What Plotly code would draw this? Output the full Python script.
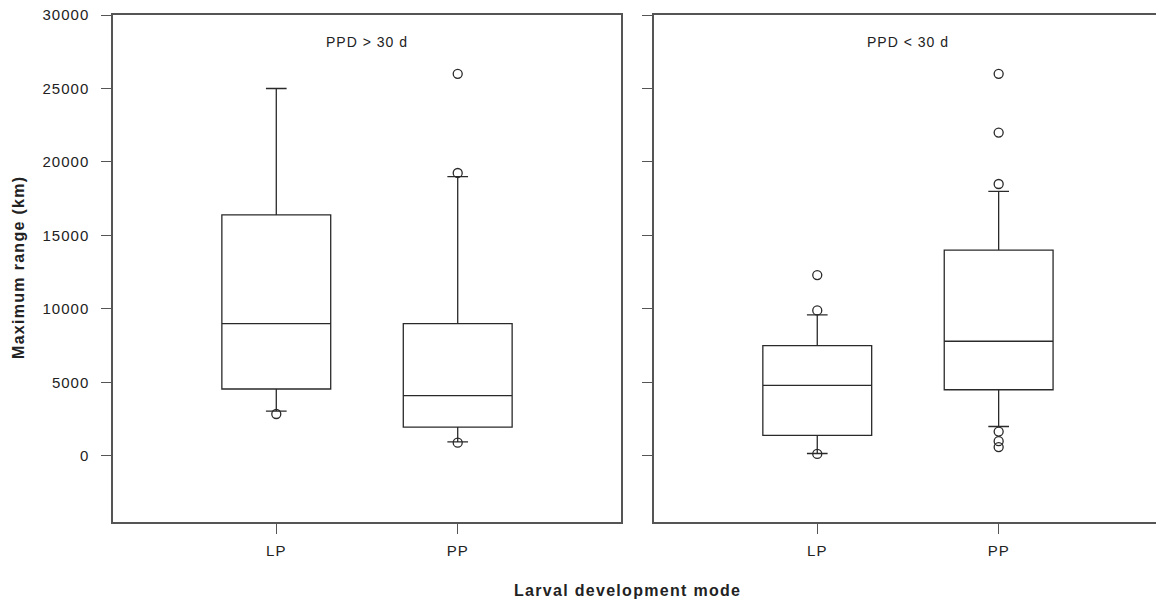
import plotly.graph_objects as go

# ---- data ----
categories = ["LP", "PP"]
panels = ["PPD > 30 d", "PPD < 30 d"]

# left panel: PPD > 30 d
left_q1 = [4550, 1950]
left_median = [9000, 4100]
left_q3 = [16400, 9000]
left_lower = [3050, 950]
left_upper = [25000, 19000]
left_outliers = [[2850], [900, 19250, 26000]]

# right panel: PPD < 30 d
right_q1 = [1400, 4500]
right_median = [4800, 7800]
right_q3 = [7500, 14000]
right_lower = [160, 2000]
right_upper = [9600, 18000]
right_outliers = [[130, 9900, 12300], [600, 1000, 1650, 18500, 22000, 26000]]

y_ticks = [0, 5000, 10000, 15000, 20000, 25000, 30000]

FONT = "Liberation Sans, Arial, sans-serif"
LINE = "#2a2a2a"
AXIS = "#555555"
TXT = "#222222"

fig = go.Figure()

def add_panel(xa, ya, q1, med, q3, lo, up, outs):
    for i in range(len(categories)):
        fig.add_trace(go.Box(
            x=[i], q1=[q1[i]], median=[med[i]], q3=[q3[i]],
            lowerfence=[lo[i]], upperfence=[up[i]],
            width=0.6, whiskerwidth=0.19, boxpoints=False,
            fillcolor="white", line=dict(color=LINE, width=1.3),
            xaxis=xa, yaxis=ya, showlegend=False, hoverinfo="skip"))
        fig.add_trace(go.Scatter(
            x=[i] * len(outs[i]), y=outs[i], mode="markers",
            marker=dict(symbol="circle-open", size=9, color=LINE,
                        line=dict(width=1.3, color=LINE)),
            xaxis=xa, yaxis=ya, showlegend=False, hoverinfo="skip"))

add_panel("x", "y", left_q1, left_median, left_q3, left_lower, left_upper, left_outliers)
add_panel("x2", "y2", right_q1, right_median, right_q3, right_lower, right_upper, right_outliers)

W = 1156
ml = 113
pw = W - ml
d1_end = (621 - ml) / pw
d2_start = (654 - ml) / pw

def spaced(s, px):
    return f'<span style="letter-spacing:{px}px">{s}</span>'

xcommon = dict(tickvals=[0, 1], ticktext=[spaced(c, 1) for c in categories],
               ticks="outside", ticklen=10,
               tickcolor=AXIS, tickwidth=1.3, showline=True, linecolor=AXIS,
               linewidth=1.5, showgrid=False, zeroline=False, ticklabelstandoff=4,
               tickfont=dict(family=FONT, size=15, color=TXT))
ycommon = dict(range=[-4500, 30000], tickvals=y_ticks,
               ticktext=[spaced(str(v), 1) for v in y_ticks],
               ticks="outside", ticklen=10, tickcolor=AXIS, tickwidth=1.3,
               showline=True, linecolor=AXIS, linewidth=1.5, showgrid=False,
               zeroline=False, ticklabelstandoff=9,
               tickfont=dict(family=FONT, size=15, color=TXT))

fig.update_layout(
    width=W, height=600,
    margin=dict(l=ml, r=0, t=15, b=78),
    plot_bgcolor="white", paper_bgcolor="white",
    xaxis=dict(domain=[0, d1_end], range=[-0.9, 1.9], mirror=True, **xcommon),
    xaxis2=dict(domain=[d2_start, 1], range=[-0.9, (1156 - 818) / 181], mirror=True,
                anchor="y2", **xcommon),
    yaxis=dict(mirror=True, **ycommon),
    yaxis2=dict(anchor="x2", matches="y", showticklabels=False, mirror=False, **ycommon),
    annotations=[
        dict(text=spaced(panels[0], 1), xref="x domain", yref="y", x=0.5, y=28150,
             xanchor="center", yanchor="middle",
             showarrow=False, font=dict(family=FONT, size=14, color=TXT)),
        dict(text=spaced(panels[1], 1), xref="x2", yref="y2", x=0.5, y=28150,
             xanchor="center", yanchor="middle",
             showarrow=False, font=dict(family=FONT, size=14, color=TXT)),
        dict(text="<b>" + spaced("Maximum range (km)", 1.3) + "</b>", xref="paper", yref="paper",
             x=(18 - ml) / pw, y=(522 - 268) / 507, textangle=-90, showarrow=False,
             xanchor="center", yanchor="middle",
             font=dict(family=FONT, size=16, color=TXT)),
        dict(text="<b>" + spaced("Larval development mode", 1.3) + "</b>", xref="paper", yref="paper",
             x=(627 - ml) / pw, y=(522 - 590) / 507, showarrow=False,
             xanchor="center", yanchor="middle",
             font=dict(family=FONT, size=16, color=TXT)),
    ],
)

fig.write_html("out.html")
